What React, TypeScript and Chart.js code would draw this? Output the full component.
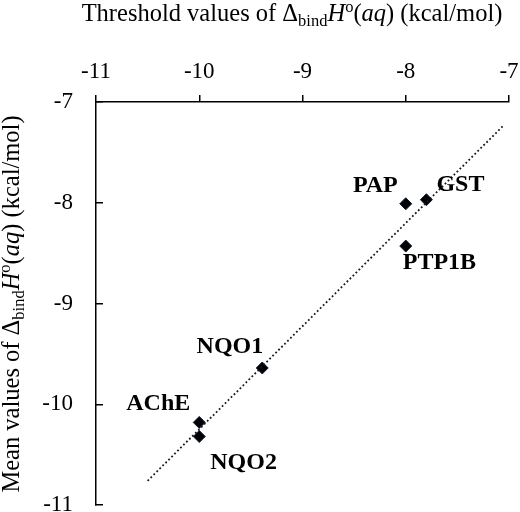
import { useEffect, useRef } from "react";
import { Chart, registerables } from "chart.js";

Chart.register(...registerables);

const NAMES = ["PAP", "GST", "PTP1B", "NQO1", "AChE", "NQO2"];
const THRESHOLD = [-8.0, -7.8, -8.0, -9.39, -10.0, -10.0];
const MEAN = [-8.01, -7.97, -8.43, -9.64, -10.18, -10.32];
const TREND_X = [-10.5, -7.05];
const TREND_Y = [-10.76, -7.23];
const TICKS = [-11, -10, -9, -8, -7];

const SERIF = '"Liberation Serif", "Times New Roman", serif';

// where each name sits relative to its marker (px) and how it is aligned
const LABEL_POS: Record<string, [number, number, CanvasTextAlign]> = {
  PAP: [-8, -18, "right"],
  GST: [10, -15, "left"],
  PTP1B: [-3, 17, "left"],
  NQO1: [1, -21, "right"],
  AChE: [-9, -19, "right"],
  NQO2: [11, 26, "left"],
};

type Seg = { t: string; size: number; style?: string; dy?: number };

const BIG = 24.5;
const SMALL = 16.5;
const LABEL_SIZE = 24;
const TICK_SIZE = 23;

function axisTitle(lead: string): Seg[] {
  return [
    { t: lead + "Δ", size: BIG },
    { t: "bind", size: SMALL, dy: 5 },
    { t: "H", size: BIG, style: "italic" },
    { t: "o", size: SMALL, dy: -9 },
    { t: "(", size: BIG },
    { t: "aq", size: BIG, style: "italic" },
    { t: ") (kcal/mol)", size: BIG },
  ];
}

function drawRich(ctx: CanvasRenderingContext2D, segs: Seg[], cx: number, y: number) {
  const fontOf = (s: Seg) => `${s.style || "normal"} normal ${s.size}px ${SERIF}`;
  let total = 0;
  for (const s of segs) {
    ctx.font = fontOf(s);
    total += ctx.measureText(s.t).width;
  }
  let x = cx - total / 2;
  ctx.textAlign = "left";
  ctx.textBaseline = "alphabetic";
  for (const s of segs) {
    ctx.font = fontOf(s);
    ctx.fillText(s.t, x, y + (s.dy || 0));
    x += ctx.measureText(s.t).width;
  }
}

const textPlugin = {
  id: "textLayer",
  afterDraw(chart: Chart) {
    const ctx = chart.ctx;
    ctx.save();
    ctx.fillStyle = "#000";
    drawRich(ctx, axisTitle("Threshold values of "), 292, 21);

    ctx.save();
    ctx.translate(19, 304);
    ctx.rotate(-Math.PI / 2);
    drawRich(ctx, axisTitle("Mean values of "), 0, 0);
    ctx.restore();

    const meta = chart.getDatasetMeta(1);
    ctx.font = `bold ${LABEL_SIZE}px ${SERIF}`;
    ctx.textBaseline = "middle";
    meta.data.forEach((pt: any, i: number) => {
      const [dx, dy, align] = LABEL_POS[NAMES[i]];
      ctx.textAlign = align;
      ctx.fillText(NAMES[i], pt.x + dx, pt.y + dy);
    });
    ctx.restore();
  },
};

const setTicks = (scale: any) => {
  scale.ticks = TICKS.map((v) => ({ value: v }));
};

export default function App() {
  const canvasRef = useRef<HTMLCanvasElement | null>(null);

  useEffect(() => {
    const canvas = canvasRef.current;
    if (!canvas) return;
    const chart = new Chart(canvas, {
      type: "scatter",
      data: {
        datasets: [
          {
            type: "line",
            label: "trend",
            data: TREND_X.map((x, i) => ({ x, y: TREND_Y[i] })),
            borderColor: "#1a1a1a",
            borderWidth: 1.8,
            borderDash: [1.8, 2.4],
            pointRadius: 0,
            fill: false,
          },
          {
            label: "enzymes",
            data: THRESHOLD.map((x, i) => ({ x, y: MEAN[i] })),
            pointStyle: "rectRot",
            pointRadius: 6,
            pointHoverRadius: 6,
            backgroundColor: "#000",
            borderColor: "#0f1e3d",
            borderWidth: 1,
          },
        ],
      },
      options: {
        responsive: false,
        animation: false,
        events: [],
        layout: { padding: { top: 55, left: 36, right: 11, bottom: 7 } },
        plugins: { legend: { display: false }, tooltip: { enabled: false } },
        scales: {
          x: {
            type: "linear",
            position: "top",
            min: -11,
            max: -7,
            afterBuildTicks: setTicks,
            afterFit: (s: any) => {
              s.height = 47;
              s.paddingLeft = 0;
              s.paddingRight = 0;
            },
            grid: {
              drawOnChartArea: false,
              drawTicks: true,
              tickLength: 7,
              color: "#000",
              lineWidth: 1.5,
            },
            border: { color: "#000", width: 1.5 },
            ticks: {
              color: "#000",
              padding: 9,
              font: { family: SERIF, size: TICK_SIZE },
            },
          },
          y: {
            type: "linear",
            position: "left",
            min: -11,
            max: -7,
            afterBuildTicks: setTicks,
            afterFit: (s: any) => {
              s.width = 60;
              s.paddingTop = 0;
              s.paddingBottom = 0;
            },
            grid: {
              drawOnChartArea: false,
              drawTicks: true,
              tickLength: -7,
              color: "#000",
              lineWidth: 1.5,
            },
            border: { color: "#000", width: 1.5 },
            ticks: {
              color: "#000",
              padding: 30,
              font: { family: SERIF, size: TICK_SIZE },
            },
          },
        },
      },
      plugins: [textPlugin],
    });
    return () => chart.destroy();
  }, []);

  return (
    <div style={{ position: "absolute", left: 0, top: 0, width: 520, height: 512, background: "#fff" }}>
      <canvas ref={canvasRef} width={520} height={512} style={{ width: 520, height: 512 }} />
    </div>
  );
}
